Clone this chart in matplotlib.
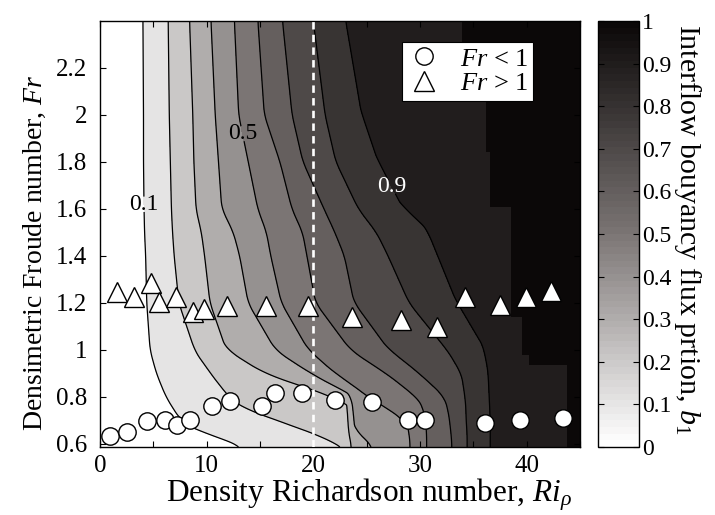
import numpy as np
import matplotlib
matplotlib.use("Agg")
import matplotlib.pyplot as plt
from matplotlib.colors import LinearSegmentedColormap, ListedColormap, Normalize
from matplotlib.lines import Line2D

plt.rcParams['font.family'] = ['Liberation Serif', 'DejaVu Serif']
plt.rcParams['mathtext.fontset'] = 'custom'
plt.rcParams['mathtext.rm'] = 'Liberation Serif'
plt.rcParams['mathtext.it'] = 'Liberation Serif:italic'

# ---- contour levels of the interflow buoyancy flux portion b1 ----
b_levels = [0.1, 0.2, 0.3, 0.4, 0.5, 0.6, 0.7, 0.8, 0.9]
labelled_levels = [0.1, 0.5, 0.9]

# Froude-number rows at which the Ri position of each contour level is tabulated
fr_rows = [2.40, 2.00, 1.80, 1.60, 1.50, 1.40, 1.20, 1.00, 0.90, 0.80, 0.75, 0.70, 0.65, 0.62, 0.587]

ri_b01 = [4.05, 4.10, 4.10, 4.15, 4.2, 4.3, 4.4, 4.7, 5.3, 6.2, 6.9, 7.6, 9.2, 12.2, 13.4]
ri_b02 = [6.4, 6.5, 6.6, 6.7, 6.8, 6.95, 7.4, 8.9, 10.4, 12.0, 13.2, 16.8, 20.0, 22.2, 23.1]
ri_b03 = [8.4, 8.7, 8.8, 9.0, 9.5, 9.8, 10.3, 11.8, 15.5, 23.2, 23.3, 23.35, 23.4, 23.45, 23.5]
ri_b04 = [10.4, 10.8, 11.1, 11.4, 12.5, 13.1, 13.9, 16.5, 20.0, 23.5, 23.6, 23.7, 23.8, 24.5, 25.6]
ri_b05 = [12.6, 13.0, 13.9, 14.8, 15.6, 16.0, 17.0, 19.5, 21.8, 24.8, 27.0, 28.8, 29.0, 29.1, 29.1]
ri_b06 = [14.8, 15.4, 16.9, 18.0, 19.0, 19.4, 20.2, 23.5, 27.0, 29.8, 30.3, 30.5, 30.6, 30.6, 30.6]
ri_b07 = [17.1, 18.0, 19.0, 21.0, 22.0, 22.9, 23.8, 27.0, 29.8, 32.3, 32.6, 32.8, 32.9, 33.0, 33.0]
ri_b08 = [20.0, 21.1, 22.1, 24.2, 25.9, 27.0, 29.0, 32.6, 33.9, 34.2, 34.3, 34.3, 34.4, 34.4, 34.4]
ri_b09 = [22.9, 24.4, 25.9, 28.2, 30.6, 31.5, 33.3, 35.9, 36.3, 36.4, 36.45, 36.5, 36.5, 36.5, 36.5]

# cells where b1 reaches 1 (stepped block at high Ri)
full_fr_edges = [0.587, 0.936, 0.979, 1.140, 1.609, 1.843, 2.10, 2.40]
full_ri_start = [43.8, 40.2, 39.6, 38.5, 36.6, 36.2, 33.9]

# ---- experiments ----
ri_sub = [0.94, 2.56, 4.43, 6.09, 7.24, 8.43, 10.47, 12.18, 15.15, 16.40, 18.90, 22.02,
          25.46, 28.9, 30.46, 36.08, 39.36, 43.36]
fr_sub = [0.634, 0.652, 0.699, 0.702, 0.681, 0.702, 0.763, 0.784, 0.763, 0.816, 0.816, 0.787,
          0.780, 0.702, 0.702, 0.691, 0.702, 0.709]
ri_super = [1.62, 3.22, 4.75, 5.53, 7.12, 8.69, 9.75, 11.87, 15.53, 19.52, 23.59,
            28.18, 31.56, 34.21, 37.49, 39.90, 42.24]
fr_super = [1.248, 1.227, 1.286, 1.206, 1.227, 1.163, 1.173, 1.187, 1.187, 1.187, 1.142,
            1.128, 1.099, 1.227, 1.191, 1.227, 1.252]

ri_limit = 20.0
x_ticks = [0, 10, 20, 30, 40]
y_ticks = [0.6, 0.8, 1.0, 1.2, 1.4, 1.6, 1.8, 2.0, 2.2]
y_tick_labels = ['0.6', '0.8', '1', '1.2', '1.4', '1.6', '1.8', '2', '2.2']
cb_ticks = [0, 0.1, 0.2, 0.3, 0.4, 0.5, 0.6, 0.7, 0.8, 0.9, 1.0]
cb_tick_labels = ['0', '0.1', '0.2', '0.3', '0.4', '0.5', '0.6', '0.7', '0.8', '0.9', '1']

RI_MAX = 45.0
FR_MIN, FR_MAX = 0.587, 2.40

# ---- build the b1 field from the tabulated contour crossings ----
crossings = np.array([ri_b01, ri_b02, ri_b03, ri_b04, ri_b05, ri_b06, ri_b07, ri_b08, ri_b09])
fr_asc = np.array(fr_rows)[::-1]
cross_asc = crossings[:, ::-1]

fr_grid = np.linspace(FR_MIN, FR_MAX, 500)
ri_grid = np.linspace(0.0, RI_MAX, 901)
B = np.empty((fr_grid.size, ri_grid.size))
for j, fr in enumerate(fr_grid):
    xs = [np.interp(fr, fr_asc, c) for c in cross_asc]
    B[j] = np.interp(ri_grid, [0.0] + xs + [RI_MAX], [0.0] + b_levels + [0.95])


def smooth(a, n, axis):
    """Moving average with edge padding along one axis."""
    pad = [(0, 0), (0, 0)]
    pad[axis] = (n // 2, n // 2)
    ap = np.pad(a, pad, mode='edge')
    k = np.ones(n) / n
    return np.apply_along_axis(lambda v: np.convolve(v, k, mode='valid'), axis, ap)


B = smooth(smooth(B, 21, 0), 7, 1)

# warm grey scale, white (b1 = 0) to black (b1 = 1)
gray = LinearSegmentedColormap.from_list('warmgray', ['#ffffff', '#7b7574', '#0b0808'])
fill_levels = np.round(np.arange(0, 1.01, 0.1), 2)
band_colors = [gray(v) for v in fill_levels[:-1]]

fig = plt.figure(figsize=(7.15, 5.15), dpi=100)
ax = fig.add_axes([100 / 715, 1 - 447 / 515, 480 / 715, 426 / 515])

ax.contourf(ri_grid, fr_grid, B, levels=fill_levels, colors=band_colors, zorder=1)
ax.stairs(full_ri_start, full_fr_edges, orientation='horizontal', baseline=RI_MAX,
          fill=True, color=gray(1.0), linewidth=0, zorder=1.5)

plain_levels = [v for v in b_levels if v not in labelled_levels]
ax.contour(ri_grid, fr_grid, B, levels=plain_levels, colors='black', linewidths=0.9, zorder=2)
cs_lab = ax.contour(ri_grid, fr_grid, B, levels=labelled_levels, colors='black',
                    linewidths=0.9, zorder=2)
labels = ax.clabel(cs_lab, inline=True, fmt='%g', fontsize=17,
                   colors=['black', 'black', 'white'], inline_spacing=-7,
                   manual=[(4.2, 1.62), (13.3, 1.92), (27.2, 1.69)])
for t in labels:
    t.set_rotation(0)

ax.axvline(ri_limit, color='white', linestyle=(0, (2.8, 2.0)), linewidth=1.9, zorder=3)

ax.plot(ri_sub, fr_sub, linestyle='none', marker='o', markersize=12.5,
        markerfacecolor='white', markeredgecolor='black', markeredgewidth=1.0, zorder=4)
ax.plot(ri_super, fr_super, linestyle='none', marker='^', markersize=14,
        markerfacecolor='white', markeredgecolor='black', markeredgewidth=1.0, zorder=4)

ax.set_xlim(0, RI_MAX)
ax.set_ylim(FR_MIN, FR_MAX)
ax.set_xticks(x_ticks)
ax.set_xticks([5, 15, 25, 35, 45], minor=True)
ax.set_yticks(y_ticks)
ax.set_yticklabels(y_tick_labels)
ax.tick_params(which='both', direction='in', length=4, width=0.8, top=True, right=True,
               labelsize=18)
ax.tick_params(axis='y', pad=9)
ax.tick_params(axis='x', pad=6)
for s in ax.spines.values():
    s.set_linewidth(1.0)

ax.set_xlabel('Density Richardson number, $Ri_\\rho$', fontsize=22.5)
ax.set_ylabel('Densimetric Froude number, $Fr$', fontsize=20)
ax.xaxis.set_label_coords(0.56, -0.07)
ax.yaxis.set_label_coords(-0.108, 0.455)

handles = [Line2D([], [], linestyle='none', marker='o', markersize=12.5,
                  markerfacecolor='white', markeredgecolor='black'),
           Line2D([], [], linestyle='none', marker='^', markersize=14,
                  markerfacecolor='white', markeredgecolor='black')]
leg = ax.legend(handles, ['$Fr$ < 1', '$Fr$ > 1'], loc='upper left',
                bbox_to_anchor=(0.629, 0.951), fontsize=19, frameon=True, fancybox=False,
                framealpha=1.0, edgecolor='black', borderpad=0.2, handletextpad=0.7,
                labelspacing=0.05, handlelength=1.3, borderaxespad=0)
leg.get_frame().set_linewidth(0.8)
leg.set_zorder(5)

# colour bar
cax = fig.add_axes([598 / 715, 1 - 447 / 515, 41 / 715, 426 / 515])
cb_map = ListedColormap(gray(np.linspace(0, 1, 64)))
cb = fig.colorbar(plt.cm.ScalarMappable(norm=Normalize(0, 1), cmap=cb_map), cax=cax)
cb.set_ticks(cb_ticks)
cb.set_ticklabels(cb_tick_labels)
cax.tick_params(direction='in', length=4, width=0.8, left=True, right=True,
                labelsize=17, pad=2)
cb.outline.set_linewidth(1.0)
fig.text(688 / 715, 1 - 229 / 515, 'Interflow bouyancy flux prtion, $b_1$', rotation=270,
         ha='center', va='center', fontsize=21.5)

fig.savefig('out.png', dpi=100)
